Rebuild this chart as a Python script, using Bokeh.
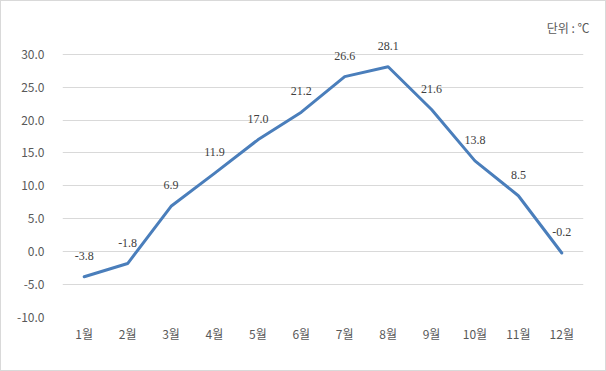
from bokeh.plotting import figure
from bokeh.models import ColumnDataSource, LabelSet, FactorRange, Range1d, FixedTicker, NumeralTickFormatter
from bokeh.embed import file_html
from bokeh.resources import INLINE

months = ["1월", "2월", "3월", "4월", "5월", "6월", "7월", "8월", "9월", "10월", "11월", "12월"]
temps = [-3.8, -1.8, 6.9, 11.9, 17.0, 21.2, 26.6, 28.1, 21.6, 13.8, 8.5, -0.2]
labels = ["%.1f" % t for t in temps]
yticks = [-10, -5, 0, 5, 10, 15, 20, 25, 30]
unit_text = "단위 : ℃"

FONT = "Noto Sans CJK KR"
FS = "12px"

src = ColumnDataSource(dict(m=months, t=temps, lab=labels))

p = figure(width=606, height=371, x_range=FactorRange(*months, range_padding=0),
           y_range=Range1d(-10, 32.7), output_backend="svg", toolbar_location=None,
           title=unit_text, title_location="above",
           min_border_left=61, min_border_right=24, min_border_top=35, min_border_bottom=55,
           background_fill_color="white", border_fill_color="white",
           styles={"border": "1px solid #d9d9d9", "box-sizing": "border-box"})
p.outline_line_color = None

p.title.align = "right"
p.title.offset = -6
p.title.standoff = 2
p.title.text_font = FONT
p.title.text_font_size = FS
p.title.text_font_style = "normal"
p.title.text_color = "#595959"

p.line("m", "t", source=src, line_color="#4a7ebb", line_width=3, line_join="round", line_cap="round")

ls = LabelSet(x="m", y="t", text="lab", source=src, y_offset=17, text_align="center",
              text_baseline="bottom", text_font=FONT, text_font_size=FS, text_color="#404040")
p.add_layout(ls)

p.yaxis.ticker = FixedTicker(ticks=yticks)
p.yaxis.formatter = NumeralTickFormatter(format="0.0")
for ax in (p.xaxis[0], p.yaxis[0]):
    ax.axis_line_color = None
    ax.major_tick_line_color = None
    ax.minor_tick_line_color = None
    ax.major_label_text_font = FONT
    ax.major_label_text_font_size = FS
    ax.major_label_text_color = "#595959"
p.yaxis.major_label_standoff = 12
p.xaxis.major_label_standoff = 1

p.xgrid.grid_line_color = None
p.ygrid.grid_line_color = "#d9d9d9"
p.ygrid.grid_line_width = 1

open("out.html", "w").write(file_html(p, INLINE))
